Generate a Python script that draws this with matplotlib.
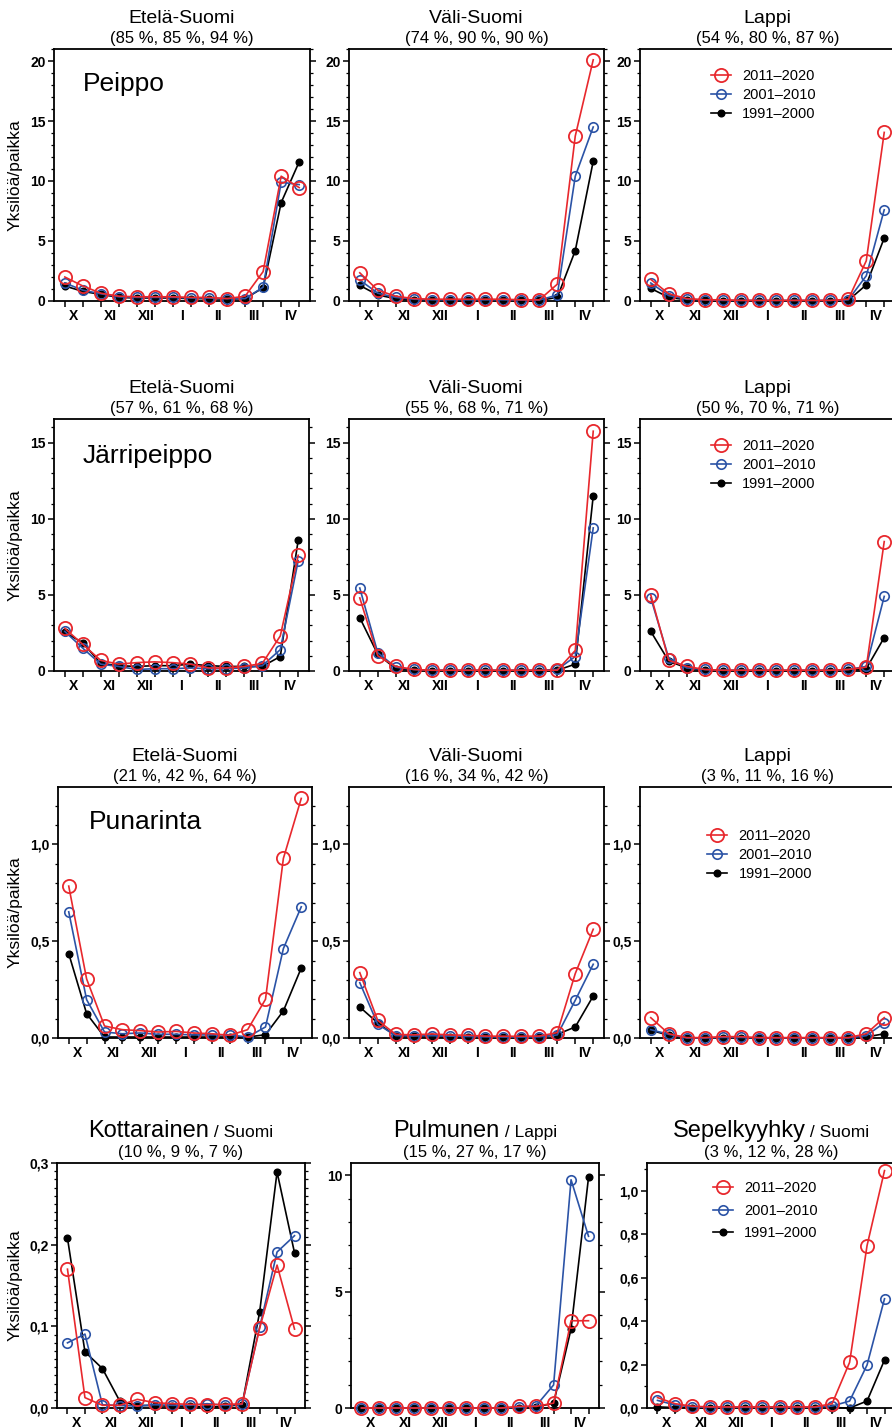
import numpy as np
import matplotlib
matplotlib.use("Agg")
import matplotlib.pyplot as plt
from matplotlib.ticker import MultipleLocator, FuncFormatter

plt.rcParams['font.family'] = ['Liberation Sans', 'DejaVu Sans']

W, H = 892, 1427

months = ["X", "XI", "XII", "I", "II", "III", "IV"]
periods = ["2011–2020", "2001–2010", "1991–2000"]
x = np.arange(14)  # two counts per month, Oct -> Apr

# Peippo
peippo_etela_2011 = [2.0, 1.25, 0.65, 0.4, 0.35, 0.35, 0.35, 0.3, 0.3, 0.2, 0.4, 2.45, 10.4, 9.45]
peippo_etela_2001 = [1.5, 0.9, 0.6, 0.35, 0.3, 0.3, 0.3, 0.25, 0.25, 0.2, 0.2, 1.15, 9.9, 9.7]
peippo_etela_1991 = [1.25, 0.8, 0.55, 0.3, 0.25, 0.25, 0.25, 0.2, 0.2, 0.15, 0.2, 1.1, 8.2, 11.6]
peippo_vali_2011 = [2.35, 0.9, 0.4, 0.2, 0.15, 0.15, 0.15, 0.15, 0.15, 0.1, 0.1, 1.4, 13.75, 20.1]
peippo_vali_2001 = [1.75, 0.65, 0.3, 0.15, 0.1, 0.1, 0.1, 0.1, 0.1, 0.08, 0.08, 0.5, 10.4, 14.5]
peippo_vali_1991 = [1.3, 0.5, 0.2, 0.1, 0.05, 0.05, 0.05, 0.05, 0.05, 0.05, 0.05, 0.3, 4.2, 11.65]
peippo_lappi_2011 = [1.8, 0.6, 0.2, 0.1, 0.1, 0.05, 0.05, 0.05, 0.05, 0.05, 0.05, 0.15, 3.35, 14.05]
peippo_lappi_2001 = [1.5, 0.45, 0.15, 0.1, 0.05, 0.05, 0.05, 0.05, 0.05, 0.05, 0.05, 0.1, 2.1, 7.6]
peippo_lappi_1991 = [1.05, 0.3, 0.1, 0.05, 0.02, 0.02, 0.02, 0.02, 0.02, 0.02, 0.02, 0.05, 1.35, 5.25]

# Järripeippo
jarri_etela_2011 = [2.8, 1.75, 0.7, 0.45, 0.55, 0.6, 0.55, 0.45, 0.2, 0.2, 0.3, 0.5, 2.3, 7.6]
jarri_etela_2001 = [2.6, 1.5, 0.45, 0.3, 0.1, 0.15, 0.15, 0.2, 0.15, 0.15, 0.2, 0.35, 1.4, 7.25]
jarri_etela_1991 = [2.55, 1.85, 0.5, 0.35, 0.3, 0.35, 0.35, 0.45, 0.35, 0.3, 0.3, 0.3, 0.95, 8.6]
jarri_vali_2011 = [4.8, 1.0, 0.3, 0.1, 0.05, 0.05, 0.05, 0.05, 0.05, 0.05, 0.05, 0.05, 1.35, 15.75]
jarri_vali_2001 = [5.45, 1.2, 0.25, 0.1, 0.05, 0.05, 0.05, 0.05, 0.05, 0.05, 0.05, 0.1, 0.95, 9.4]
jarri_vali_1991 = [3.5, 1.1, 0.15, 0.08, 0.02, 0.02, 0.02, 0.02, 0.02, 0.02, 0.02, 0.05, 0.45, 11.5]
jarri_lappi_2011 = [5.0, 0.7, 0.3, 0.1, 0.05, 0.05, 0.05, 0.05, 0.05, 0.05, 0.05, 0.1, 0.25, 8.5]
jarri_lappi_2001 = [4.8, 0.85, 0.2, 0.1, 0.05, 0.05, 0.05, 0.05, 0.05, 0.05, 0.05, 0.1, 0.3, 4.9]
jarri_lappi_1991 = [2.6, 0.65, 0.2, 0.05, 0.02, 0.02, 0.02, 0.02, 0.02, 0.02, 0.02, 0.05, 0.15, 2.2]

# Punarinta
puna_etela_2011 = [0.785, 0.305, 0.062, 0.043, 0.038, 0.031, 0.034, 0.026, 0.022, 0.014, 0.043, 0.2, 0.928, 1.238]
puna_etela_2001 = [0.652, 0.198, 0.031, 0.022, 0.026, 0.019, 0.019, 0.016, 0.016, 0.016, 0.005, 0.057, 0.462, 0.678]
puna_etela_1991 = [0.436, 0.126, 0.005, 0.005, 0.005, 0.005, 0.005, 0.005, 0.005, 0.005, 0.005, 0.017, 0.14, 0.362]
puna_vali_2011 = [0.338, 0.091, 0.019, 0.016, 0.021, 0.016, 0.014, 0.01, 0.009, 0.009, 0.01, 0.028, 0.333, 0.562]
puna_vali_2001 = [0.286, 0.071, 0.012, 0.01, 0.012, 0.01, 0.008, 0.006, 0.005, 0.005, 0.006, 0.016, 0.195, 0.381]
puna_vali_1991 = [0.16, 0.078, 0.01, 0.008, 0.005, 0.005, 0.003, 0.003, 0.003, 0.003, 0.003, 0.019, 0.057, 0.217]
puna_lappi_2011 = [0.105, 0.022, 0.002, 0.002, 0.007, 0.007, 0.002, 0.002, 0.002, 0.002, 0.002, 0.002, 0.022, 0.105]
puna_lappi_2001 = [0.043, 0.019, 0.0, 0.0, 0.003, 0.003, 0.0, 0.0, 0.0, 0.0, 0.0, 0.0, 0.012, 0.078]
puna_lappi_1991 = [0.04, 0.014, 0.0, 0.0, 0.002, 0.002, 0.0, 0.0, 0.0, 0.0, 0.0, 0.0, 0.005, 0.022]

# Kottarainen, Pulmunen, Sepelkyyhky
kotta_2011 = [0.170, 0.0127, 0.0033, 0.0033, 0.0106, 0.0065, 0.0053, 0.0045, 0.004, 0.0045, 0.005, 0.0974, 0.175, 0.0966]
kotta_2001 = [0.0798, 0.0905, 0.004, 0.003, 0.0025, 0.004, 0.0033, 0.0033, 0.0053, 0.0033, 0.0045, 0.0986, 0.191, 0.211]
kotta_1991 = [0.208, 0.0688, 0.0483, 0.0082, 0.003, 0.003, 0.002, 0.002, 0.001, 0.002, 0.004, 0.117, 0.289, 0.190]
pulmu_2011 = [0, 0, 0, 0, 0, 0, 0, 0, 0, 0.07, 0.07, 0.21, 3.75, 3.75]
pulmu_2001 = [0, 0, 0, 0, 0, 0, 0, 0, 0, 0.03, 0.1, 0.99, 9.81, 7.38]
pulmu_1991 = [0, 0, 0, 0, 0, 0, 0, 0, 0, 0.02, 0.05, 0.2, 3.4, 9.91]
sepel_2011 = [0.048, 0.02, 0.008, 0.005, 0.005, 0.005, 0.005, 0.005, 0.005, 0.005, 0.02, 0.21, 0.748, 1.093]
sepel_2001 = [0.035, 0.014, 0.005, 0.003, 0.003, 0.003, 0.003, 0.003, 0.003, 0.003, 0.009, 0.032, 0.198, 0.503]
sepel_1991 = [0.005, 0.002, 0.002, 0.002, 0.002, 0.002, 0.002, 0.002, 0.002, 0.002, 0.002, 0.0, 0.032, 0.221]

red = "#E8282D"
blue = "#2B53A6"
black = "#000000"

fig = plt.figure(figsize=(W / 100, H / 100), dpi=100)


def px_axes(left, top, right, bottom):
    return fig.add_axes([left / W, 1 - bottom / H, (right - left) / W, (bottom - top) / H])


def panel(rect, r, b, k, ymax, major, minor, dec=0, ylabel=False):
    ax = px_axes(*rect)
    lk, = ax.plot(x, k, color=black, lw=1.2, marker='o', ms=4.8, mfc=black, mec=black,
                  clip_on=False, zorder=3)
    lb, = ax.plot(x, b, color=blue, lw=1.2, marker='o', ms=6.8, mfc='none', mec=blue, mew=1.2,
                  clip_on=False, zorder=4)
    lr, = ax.plot(x, r, color=red, lw=1.2, marker='o', ms=9.5, mfc='none', mec=red, mew=1.3,
                  clip_on=False, zorder=5)
    ax.set_xlim(-0.6, 13.6)
    ax.set_ylim(0, ymax)

    ax.yaxis.set_major_locator(MultipleLocator(major))
    ax.yaxis.set_minor_locator(MultipleLocator(minor))
    ax.yaxis.set_major_formatter(FuncFormatter(lambda v, p: f"{v:.{dec}f}".replace('.', ',')))
    ax.tick_params(axis='y', which='both', direction='out', left=True, right=True)
    ax.tick_params(axis='y', which='major', length=4, width=1.1, pad=2, labelsize=10)
    ax.tick_params(axis='y', which='minor', length=2.3, width=0.9)
    for t in ax.get_yticklabels():
        t.set_fontweight('bold')

    ax.set_xticks(x)
    ax.set_xticklabels([])
    ax.set_xticks(np.arange(0.5, 14, 2), minor=True)
    ax.set_xticklabels(months, minor=True, fontweight='bold', fontsize=10)
    ax.tick_params(axis='x', which='major', direction='out', length=4, width=1.1, top=False)
    ax.tick_params(axis='x', which='minor', length=0, pad=6)

    for s in ax.spines.values():
        s.set_linewidth(1.3)

    if ylabel:
        ax.set_ylabel("Yksilöä/paikka", fontsize=12.5, va='center')
        l, t, rgt, btm = rect
        ax.yaxis.set_label_coords((15 - l) / (rgt - l), 0.5)
    return ax, (lr, lb, lk)


def titles(ax, head, share):
    ax.annotate(head, xy=(0.5, 1), xycoords='axes fraction', xytext=(0, 26),
                textcoords='offset pixels', ha='center', va='baseline', fontsize=14)
    ax.annotate(share, xy=(0.5, 1), xycoords='axes fraction', xytext=(0, 6),
                textcoords='offset pixels', ha='center', va='baseline', fontsize=12)


def add_legend(ax, handles, fx, fy, spacing=0.35):
    ax.legend(handles=handles, labels=periods, loc='upper left', bbox_to_anchor=(fx, fy),
              frameon=False, fontsize=10.5, handlelength=1.4, handletextpad=0.75,
              labelspacing=spacing, borderpad=0, borderaxespad=0)


def species(ax, name, dx, dy):
    ax.annotate(name, xy=(0, 1), xycoords='axes fraction', xytext=(dx, -dy),
                textcoords='offset pixels', ha='left', va='baseline', fontsize=19)


# row 1: Peippo
ax, h = panel((54, 49, 310, 301), peippo_etela_2011, peippo_etela_2001, peippo_etela_1991,
              21, 5, 1, ylabel=True)
titles(ax, "Etelä-Suomi", "(85 %, 85 %, 94 %)")
species(ax, "Peippo", 29, 42)
ax, h = panel((349, 49, 604, 301), peippo_vali_2011, peippo_vali_2001, peippo_vali_1991, 21, 5, 1)
titles(ax, "Väli-Suomi", "(74 %, 90 %, 90 %)")
ax, h = panel((640, 49, 895, 301), peippo_lappi_2011, peippo_lappi_2001, peippo_lappi_1991, 21, 5, 1)
titles(ax, "Lappi", "(54 %, 80 %, 87 %)")
add_legend(ax, h, 0.278, 0.92)

# row 2: Järripeippo
ax, h = panel((54, 419, 309, 671), jarri_etela_2011, jarri_etela_2001, jarri_etela_1991,
              16.55, 5, 1, ylabel=True)
titles(ax, "Etelä-Suomi", "(57 %, 61 %, 68 %)")
species(ax, "Järripeippo", 29, 44)
ax, h = panel((349, 419, 604, 671), jarri_vali_2011, jarri_vali_2001, jarri_vali_1991, 16.55, 5, 1)
titles(ax, "Väli-Suomi", "(55 %, 68 %, 71 %)")
ax, h = panel((640, 419, 895, 671), jarri_lappi_2011, jarri_lappi_2001, jarri_lappi_1991, 16.55, 5, 1)
titles(ax, "Lappi", "(50 %, 70 %, 71 %)")
add_legend(ax, h, 0.278, 0.92)

# row 3: Punarinta
ax, h = panel((58, 787, 312, 1038), puna_etela_2011, puna_etela_2001, puna_etela_1991,
              1.297, 0.5, 0.1, dec=1, ylabel=True)
titles(ax, "Etelä-Suomi", "(21 %, 42 %, 64 %)")
species(ax, "Punarinta", 31, 42)
ax, h = panel((349, 787, 604, 1038), puna_vali_2011, puna_vali_2001, puna_vali_1991,
              1.297, 0.5, 0.1, dec=1)
titles(ax, "Väli-Suomi", "(16 %, 34 %, 42 %)")
ax, h = panel((640, 787, 895, 1038), puna_lappi_2011, puna_lappi_2001, puna_lappi_1991,
              1.297, 0.5, 0.1, dec=1)
titles(ax, "Lappi", "(3 %, 11 %, 16 %)")
add_legend(ax, h, 0.263, 0.833)

# row 4: one panel per species
row4 = [
    ((57, 1163, 305, 1408), kotta_2011, kotta_2001, kotta_1991, 0.3, 0.1, 0.01, 1,
     "Kottarainen", " / Suomi", "(10 %, 9 %, 7 %)"),
    ((351, 1163, 599, 1408), pulmu_2011, pulmu_2001, pulmu_1991, 10.53, 5, 1, 0,
     "Pulmunen", " / Lappi", "(15 %, 27 %, 17 %)"),
    ((647, 1163, 895, 1408), sepel_2011, sepel_2001, sepel_1991, 1.128, 0.2, 0.1, 1,
     "Sepelkyyhky", " / Suomi", "(3 %, 12 %, 28 %)"),
]
renderer = fig.canvas.get_renderer()
for i, (rect, r, b, k, ymax, major, minor, dec, name, area, share) in enumerate(row4):
    ax, h = panel(rect, r, b, k, ymax, major, minor, dec=dec, ylabel=(i == 0))
    ax.annotate(share, xy=(0.5, 1), xycoords='axes fraction', xytext=(0, 6),
                textcoords='offset pixels', ha='center', va='baseline', fontsize=12)
    # species name and area on one centred line with two sizes
    cx = (rect[0] + rect[2]) / 2
    base = H - rect[1] + 26
    t1 = fig.text(0, base, name, fontsize=17, va='baseline', transform=None)
    t2 = fig.text(0, base, area, fontsize=12.5, va='baseline', transform=None)
    w1 = t1.get_window_extent(renderer).width
    w2 = t2.get_window_extent(renderer).width
    x0 = cx - (w1 + w2) / 2
    t1.set_x(x0)
    t2.set_x(x0 + w1)
    if i == 2:
        add_legend(ax, h, 0.266, 0.927, spacing=0.6)

fig.savefig("out.png", dpi=100)
